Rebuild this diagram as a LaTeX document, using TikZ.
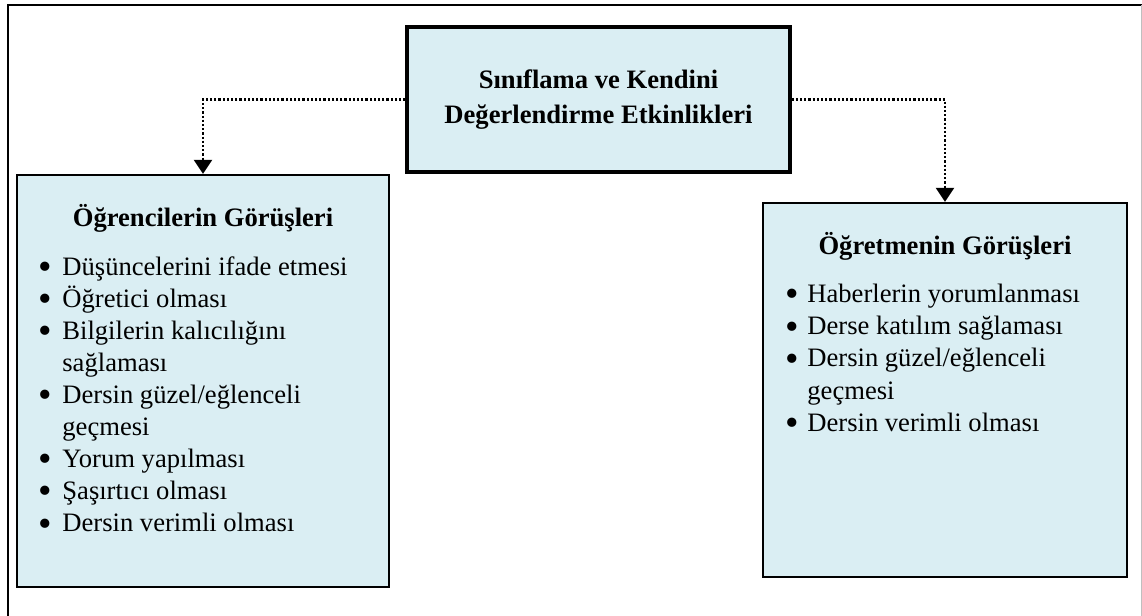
\documentclass[tikz,border=0pt]{standalone}
\usepackage{fontspec}
\setmainfont{Liberation Serif}
\usetikzlibrary{arrows.meta}
\definecolor{boxfill}{HTML}{DAEEF3}
\newcommand{\bigbul}{\smash{\raisebox{-0.16em}{\scalebox{1.45}{\textbullet}}}}
\begin{document}
\begin{tikzpicture}[x=0.5pt,y=-0.5pt,
  topbox/.style={draw, fill=boxfill, line width=1.6pt, minimum width=191.5pt,
    minimum height=72.5pt, inner sep=0pt, align=center,
    font=\fontsize{13.3}{17.5}\selectfont\bfseries},
  viewbox/.style={draw, fill=boxfill, line width=1.1pt, inner sep=0pt},
  titletext/.style={anchor=base, inner sep=0pt, font=\fontsize{13.3}{16}\selectfont\bfseries},
  listtext/.style={anchor=base west, inner sep=0pt, font=\fontsize{13.3}{16.05}\selectfont},
  conn/.style={line width=1.1pt, dash pattern=on 1.1pt off 1pt,
    -{Triangle[width=9pt,length=7pt]}},
  framebw/.style={line width=1.1pt},
  framegray/.style={draw=black!25, line width=0.5pt},
]
\useasboundingbox (0,0) rectangle (1142,616);
% outer frame
\draw[framebw] (8,616) -- (8,4.8) -- (1142,4.8);
\draw[framegray] (1141,4.8) -- (1141,616);

% top box
\node[topbox] (top) at (598.5,99.5) {Sınıflama ve Kendini\\Değerlendirme Etkinlikleri};

% left box
\node[viewbox, minimum width=186pt, minimum height=206pt] (left) at (203,381) {};
\node[titletext] (lefttitle) at (203,226.7) {Öğrencilerin Görüşleri};
\node[listtext] (leftlist) at (38,275) {\begin{tabular}[t]{@{}p{12pt}@{}l@{}}
\bigbul & Düşüncelerini ifade etmesi\\
\bigbul & Öğretici olması\\
\bigbul & Bilgilerin kalıcılığını\\
 & sağlaması\\
\bigbul & Dersin güzel/eğlenceli\\
 & geçmesi\\
\bigbul & Yorum yapılması\\
\bigbul & Şaşırtıcı olması\\
\bigbul & Dersin verimli olması
\end{tabular}};

% right box
\node[viewbox, minimum width=182pt, minimum height=187pt] (right) at (945,390) {};
\node[titletext] (righttitle) at (945,254) {Öğretmenin Görüşleri};
\node[listtext] (rightlist) at (785,302.7) {\begin{tabular}[t]{@{}p{11pt}@{}l@{}}
\bigbul & Haberlerin yorumlanması\\
\bigbul & Derse katılım sağlaması\\
\bigbul & Dersin güzel/eğlenceli\\
 & geçmesi\\
\bigbul & Dersin verimli olması
\end{tabular}};

% connectors
\draw[conn] (top.west) -| (left.north);
\draw[conn] (top.east) -| (right.north);
\end{tikzpicture}
\end{document}
